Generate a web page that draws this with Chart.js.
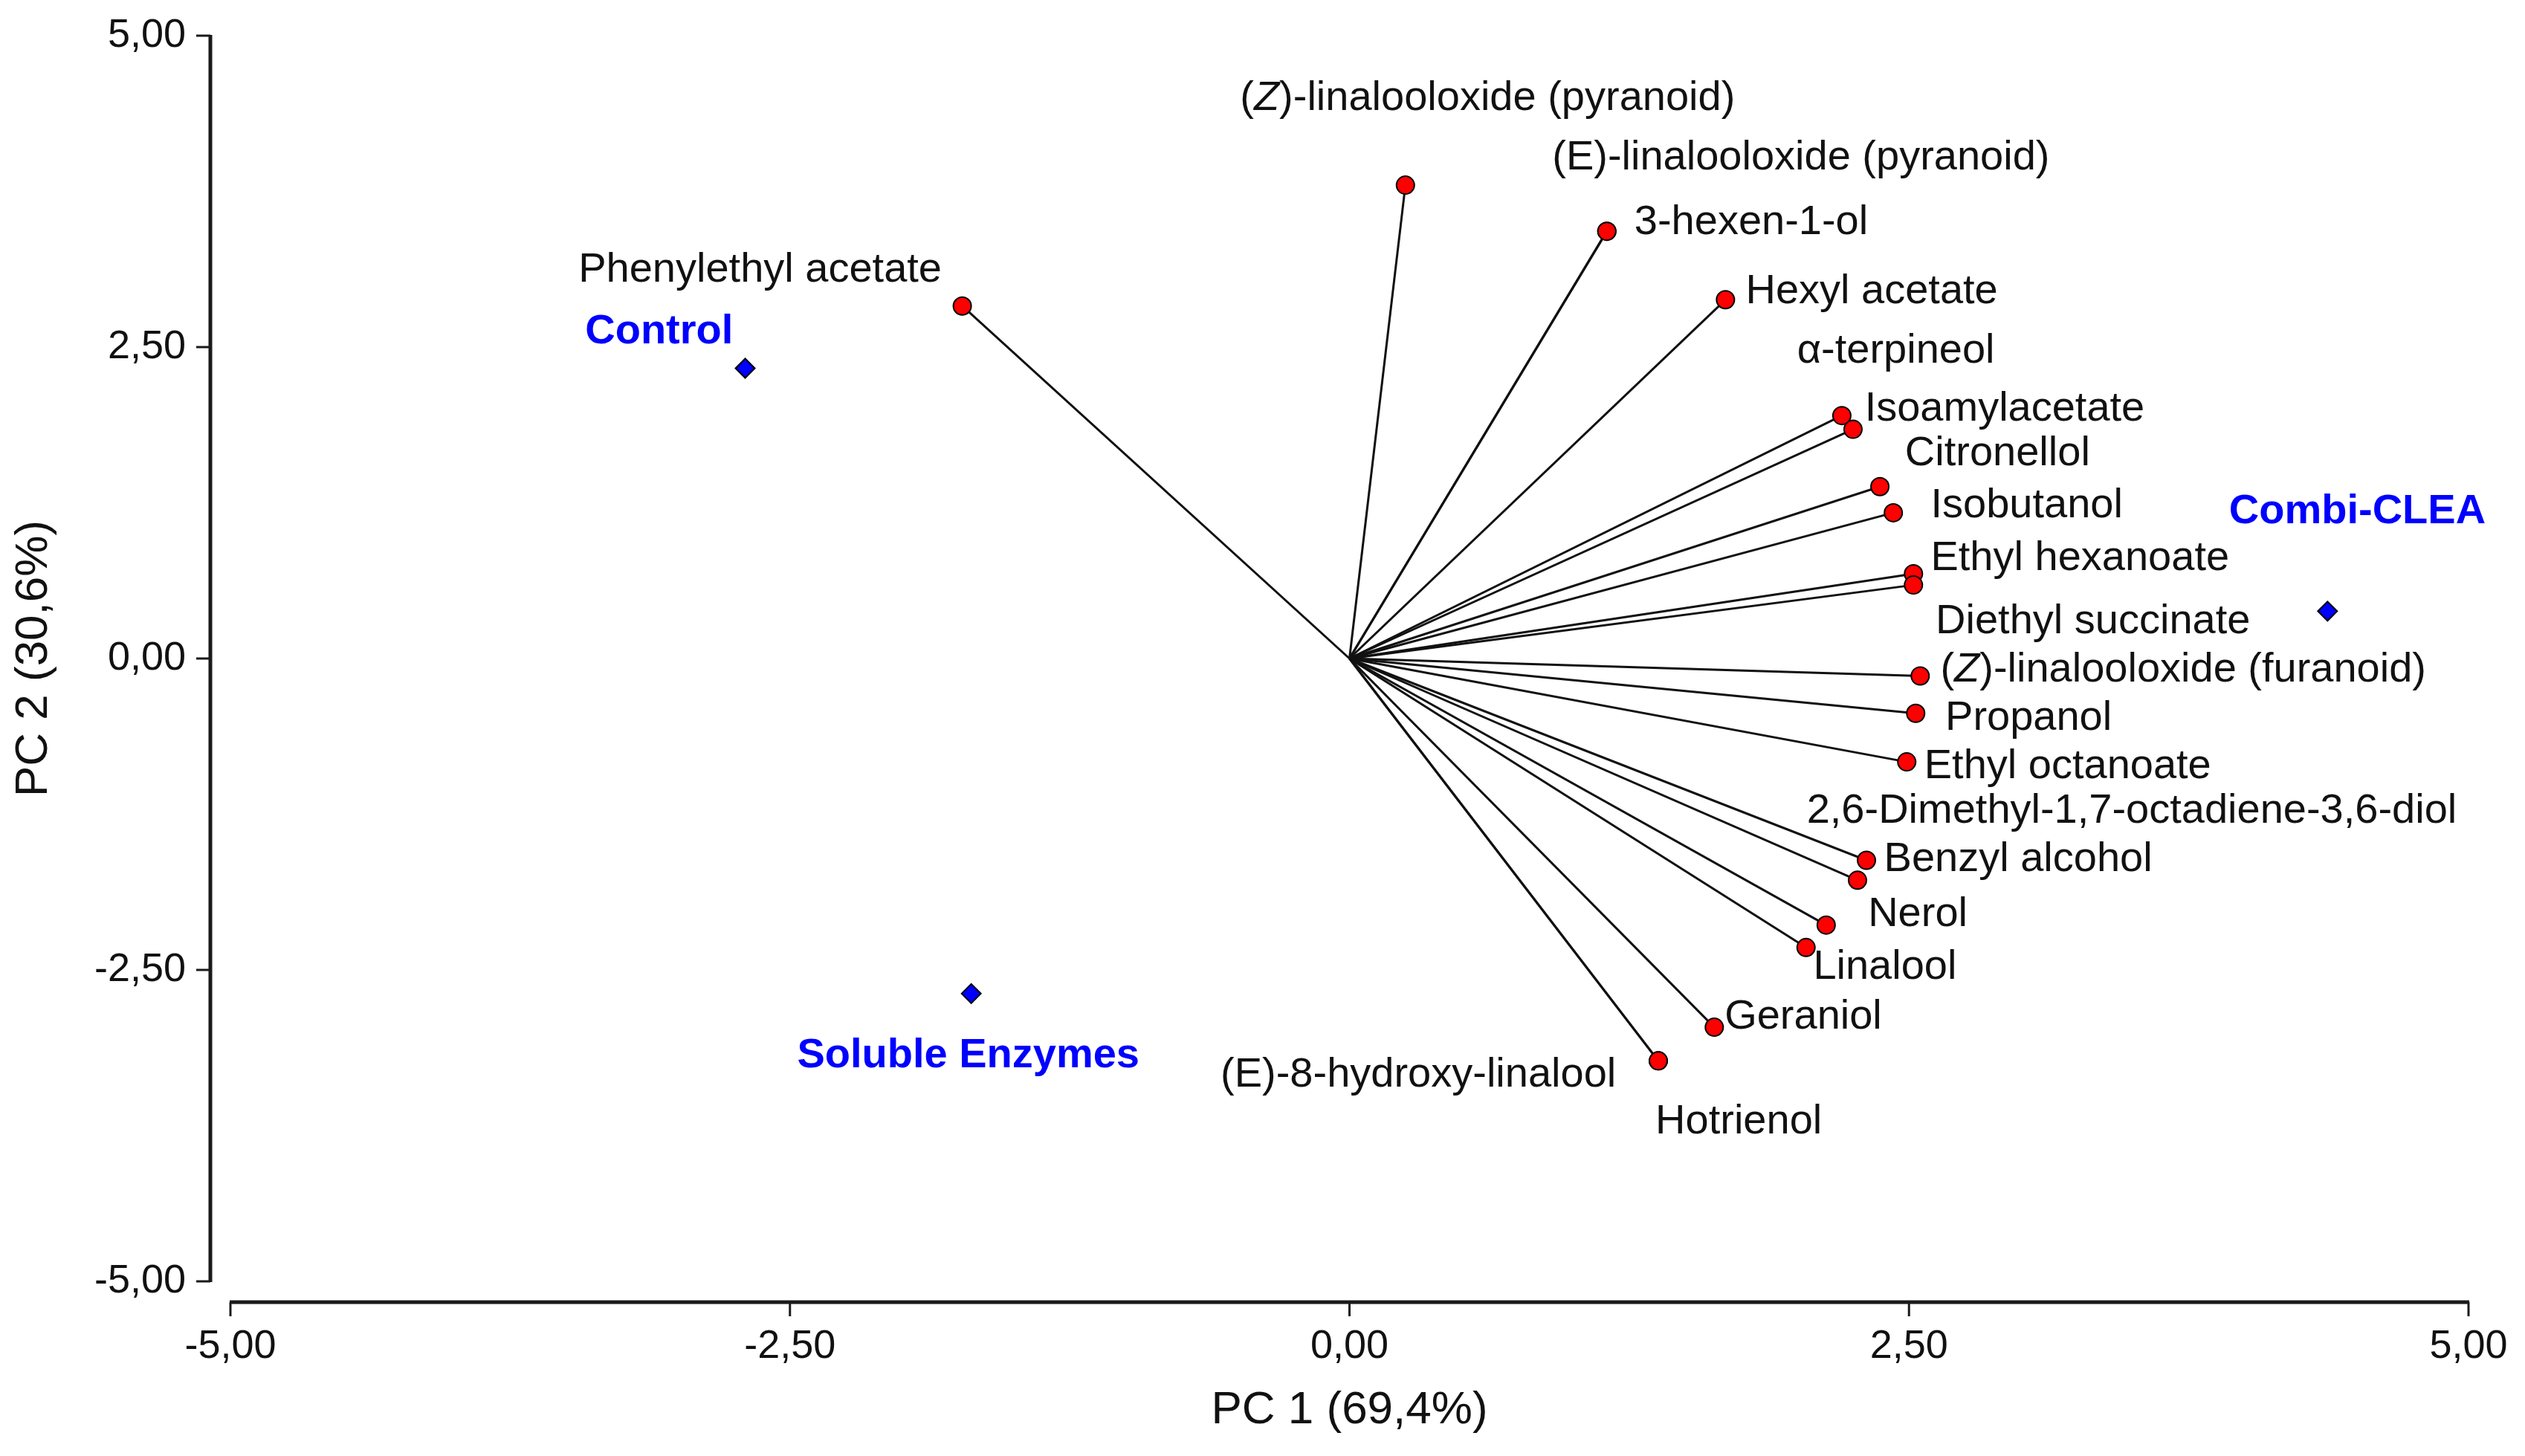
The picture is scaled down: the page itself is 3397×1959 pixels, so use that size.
<!DOCTYPE html>
<html>
<head>
<meta charset="utf-8">
<title>PCA biplot</title>
<script src="https://cdn.jsdelivr.net/npm/chart.js@4.4.1/dist/chart.umd.min.js"></script>
<style>
  html, body { margin: 0; padding: 0; background: #ffffff; }
  #wrap { width: 3397px; height: 1959px; }
</style>
</head>
<body>
<div id="wrap"><canvas id="biplot" width="3397" height="1959"></canvas></div>
<script>
// compounds (loadings, red points)
const compounds = [
  "Phenylethyl acetate",
  "(Z)-linalooloxide (pyranoid)",
  "(E)-linalooloxide (pyranoid)",
  "3-hexen-1-ol",
  "Hexyl acetate",
  "α-terpineol",
  "Isoamylacetate",
  "Citronellol",
  "Isobutanol",
  "Ethyl hexanoate",
  "Diethyl succinate",
  "(Z)-linalooloxide (furanoid)",
  "Propanol",
  "Ethyl octanoate",
  "2,6-Dimethyl-1,7-octadiene-3,6-diol",
  "Benzyl alcohol",
  "Nerol",
  "Linalool",
  "Geraniol",
  "(E)-8-hydroxy-linalool",
  "Hotrienol"
];
const loadPC1 = [-1.73, 0.25, 1.15, 1.15, 1.68, 2.20, 2.25, 2.37, 2.43, 2.52, 2.52, 2.55, 2.53, 2.49, 2.31, 2.27, 2.13, 2.04, 1.63, 1.38, 1.38];
const loadPC2 = [2.83, 3.80, 3.43, 3.43, 2.88, 1.95, 1.84, 1.38, 1.17, 0.68, 0.59, -0.14, -0.44, -0.83, -1.62, -1.78, -2.14, -2.32, -2.96, -3.23, -3.23];

// samples (scores, blue diamonds)
const samples = ["Control", "Combi-CLEA", "Soluble Enzymes"];
const scorePC1 = [-2.70, 4.37, -1.69];
const scorePC2 = [2.33, 0.38, -2.69];

// axes
const tickValues = [-5, -2.5, 0, 2.5, 5];
const tickLabels = ["-5,00", "-2,50", "0,00", "2,50", "5,00"];
const xTitle = "PC 1 (69,4%)";
const yTitle = "PC 2 (30,6%)";

// label anchors in axis units: [left edge, middle]
const compoundLabelAt = [
  [-3.445, 3.12], [-0.489, 4.496], [0.906, 4.018], [1.273, 3.501], [1.770, 2.946],
  [2.0, 2.468], [2.302, 2.003], [2.482, 1.641], [2.597, 1.227], [2.597, 0.801],
  [2.619, 0.297], [2.640, -0.090], [2.662, -0.478], [2.568, -0.866], [2.043, -1.227],
  [2.388, -1.615], [2.317, -2.054], [2.072, -2.481], [1.676, -2.881], [-0.576, -3.346],
  [1.367, -3.721]
];
const sampleLabelAt = [[-3.415, 2.624], [3.930, 1.178], [-2.468, -3.191]];

const FONT = '"Liberation Sans", Arial, sans-serif';

// the (Z) prefix is set in italics
function drawName(ctx, text, px, py, font) {
  const m = text.match(/^\(Z\)(.*)$/);
  ctx.font = font;
  if (!m) { ctx.fillText(text, px, py); return; }
  ctx.fillText("(", px, py);
  let cx = px + ctx.measureText("(").width;
  ctx.font = "italic " + font;
  ctx.fillText("Z", cx, py);
  cx += ctx.measureText("Z").width;
  ctx.font = font;
  ctx.fillText(")" + m[1], cx, py);
}

// axis lines sit a little away from the plot area
const detachedAxes = {
  id: "detachedAxes",
  afterDraw(chart) {
    const { ctx, chartArea, scales: { x, y } } = chart;
    const axX = chartArea.left - 27;
    const axY = chartArea.bottom + 28;
    ctx.save();
    ctx.strokeStyle = "#1a1a1a";

    ctx.lineWidth = 5;
    ctx.beginPath();
    ctx.moveTo(axX, y.getPixelForValue(5) - 1);
    ctx.lineTo(axX, y.getPixelForValue(-5) + 1);
    ctx.stroke();
    ctx.lineWidth = 3;
    tickValues.forEach(v => {
      const py = y.getPixelForValue(v);
      ctx.beginPath();
      ctx.moveTo(axX - 19, py);
      ctx.lineTo(axX, py);
      ctx.stroke();
    });

    ctx.lineWidth = 5;
    ctx.beginPath();
    ctx.moveTo(x.getPixelForValue(-5) - 1, axY);
    ctx.lineTo(x.getPixelForValue(5) + 1, axY);
    ctx.stroke();
    ctx.lineWidth = 3;
    tickValues.forEach(v => {
      const px = x.getPixelForValue(v);
      ctx.beginPath();
      ctx.moveTo(px, axY);
      ctx.lineTo(px, axY + 19);
      ctx.stroke();
    });
    ctx.restore();
  }
};

const pointLabels = {
  id: "pointLabels",
  afterDatasetsDraw(chart) {
    const { ctx, scales: { x, y } } = chart;
    ctx.save();
    ctx.textAlign = "left";
    ctx.textBaseline = "middle";
    ctx.fillStyle = "#111111";
    compounds.forEach((name, i) => {
      const [lx, ly] = compoundLabelAt[i];
      drawName(ctx, name, x.getPixelForValue(lx), y.getPixelForValue(ly), "56px " + FONT);
    });
    ctx.fillStyle = "#0000ff";
    ctx.font = "bold 56px " + FONT;
    samples.forEach((name, i) => {
      const [lx, ly] = sampleLabelAt[i];
      ctx.fillText(name, x.getPixelForValue(lx), y.getPixelForValue(ly));
    });
    ctx.restore();
  }
};

// one line from the origin to each loading
const vectorSets = compounds.map((name, i) => ({
  label: name,
  data: [{ x: 0, y: 0 }, { x: loadPC1[i], y: loadPC2[i] }],
  showLine: true,
  borderColor: "#111111",
  borderWidth: 3,
  pointRadius: 0,
  order: 3
}));

const tickFont = { family: FONT, size: 54 };
const titleFont = { family: FONT, size: 62 };

new Chart(document.getElementById("biplot"), {
  type: "scatter",
  data: {
    datasets: [
      {
        label: "Samples",
        data: samples.map((s, i) => ({ x: scorePC1[i], y: scorePC2[i] })),
        pointStyle: "rectRot",
        pointRadius: 13,
        backgroundColor: "#0000ff",
        borderColor: "#000000",
        borderWidth: 2,
        order: 0
      },
      {
        label: "Compounds",
        data: compounds.map((c, i) => ({ x: loadPC1[i], y: loadPC2[i] })),
        pointStyle: "circle",
        pointRadius: 12,
        backgroundColor: "#ff0000",
        borderColor: "#000000",
        borderWidth: 2,
        order: 1
      },
      ...vectorSets
    ]
  },
  options: {
    responsive: false,
    devicePixelRatio: 1,
    animation: false,
    layout: { padding: { left: 0, right: 76, top: 48, bottom: 0 } },
    plugins: {
      legend: { display: false },
      tooltip: { enabled: false }
    },
    scales: {
      x: {
        type: "linear",
        min: -5,
        max: 5,
        afterBuildTicks: s => { s.ticks = tickValues.map(v => ({ value: v })); },
        afterFit: s => { s.height = 235; s.paddingLeft = 0; s.paddingRight = 0; },
        ticks: {
          callback: v => tickLabels[tickValues.indexOf(v)],
          font: tickFont,
          color: "#111111",
          padding: 56,
          maxRotation: 0,
          autoSkip: false
        },
        grid: { display: false, drawTicks: false },
        border: { display: false },
        title: { display: true, text: xTitle, font: titleFont, color: "#111111", padding: { top: 0, bottom: 24 } }
      },
      y: {
        type: "linear",
        min: -5,
        max: 5,
        afterBuildTicks: s => { s.ticks = tickValues.map(v => ({ value: v })); },
        afterFit: s => { s.width = 310; s.paddingTop = 0; s.paddingBottom = 0; },
        ticks: {
          callback: v => tickLabels[tickValues.indexOf(v)],
          font: tickFont,
          color: "#111111",
          padding: 60,
          autoSkip: false
        },
        grid: { display: false, drawTicks: false },
        border: { display: false },
        title: { display: true, text: yTitle, font: titleFont, color: "#111111", padding: { top: 9, bottom: 0 } }
      }
    }
  },
  plugins: [detachedAxes, pointLabels]
});
</script>
</body>
</html>
